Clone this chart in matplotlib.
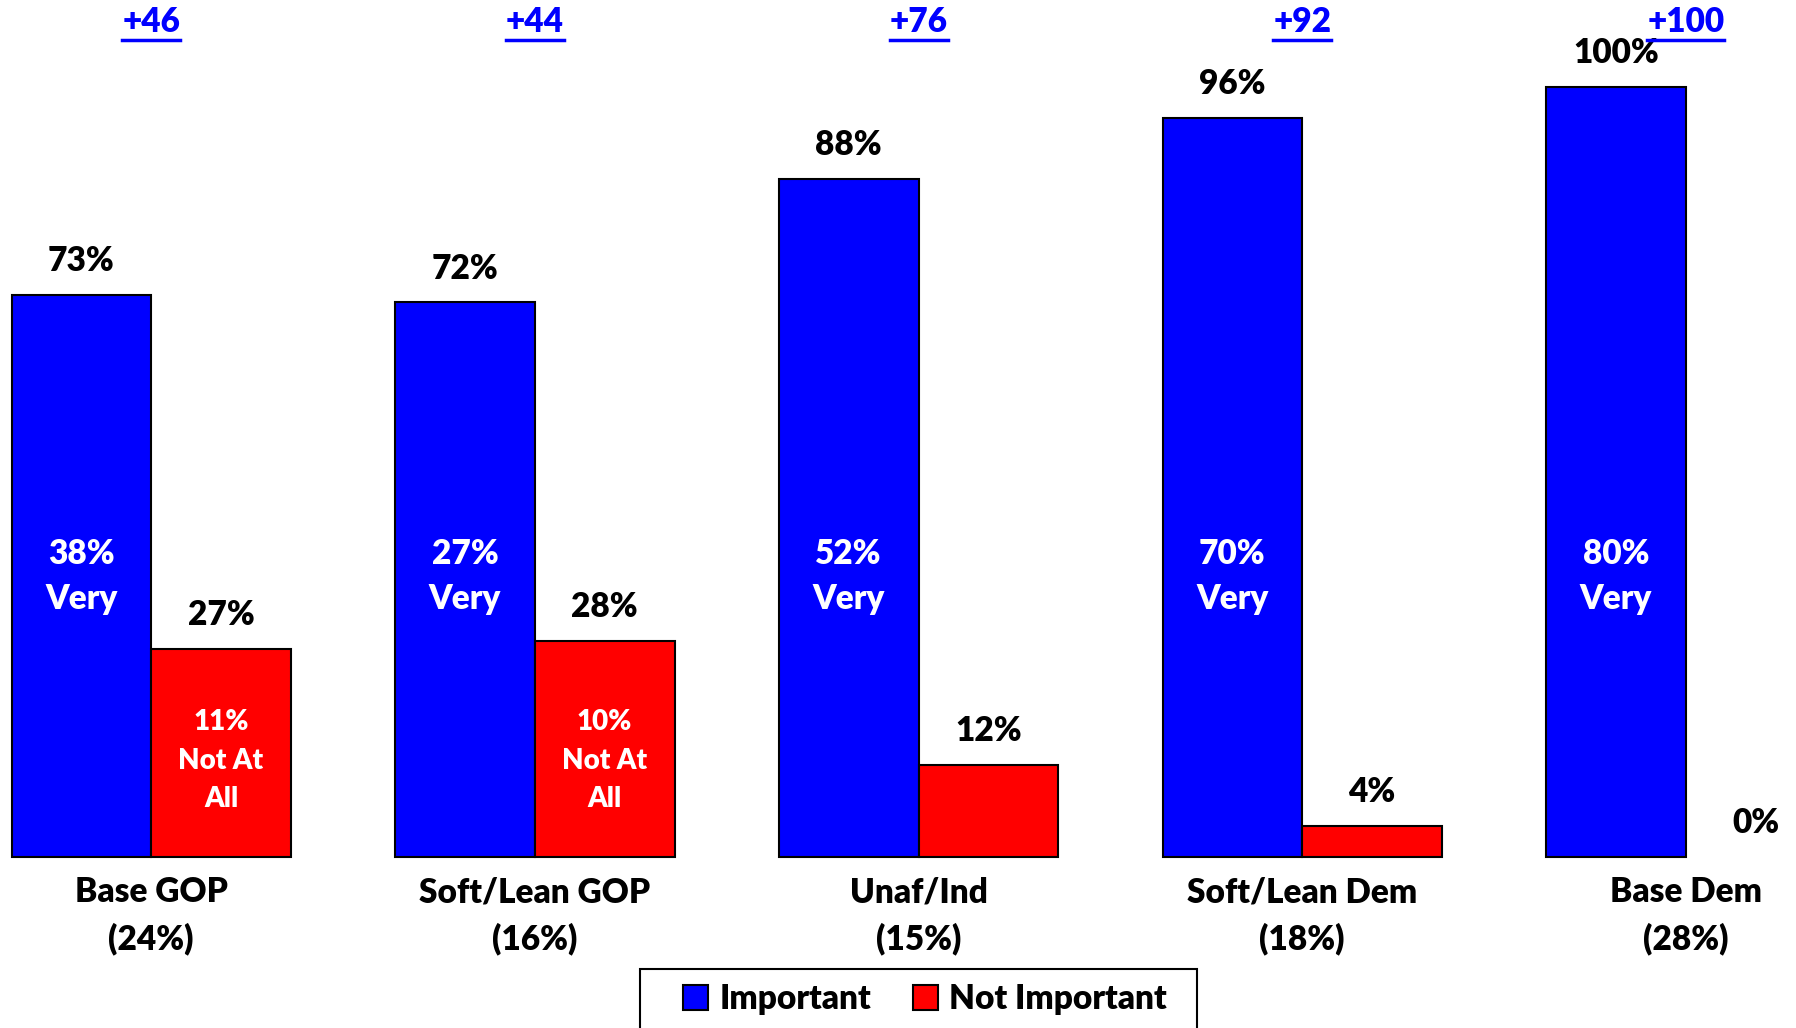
import matplotlib
matplotlib.use("Agg")
import matplotlib.pyplot as plt
from matplotlib.patches import Patch, Rectangle
from matplotlib.lines import Line2D
import numpy as np

plt.rcParams['font.family'] = ['Lato', 'DejaVu Sans']
plt.rcParams['font.weight'] = 'heavy'

groups = ['Base GOP\n(24%)', 'Soft/Lean GOP\n(16%)', 'Unaf/Ind\n(15%)',
          'Soft/Lean Dem\n(18%)', 'Base Dem\n(28%)']
important = [73, 72, 88, 96, 100]
not_important = [27, 28, 12, 4, 0]
very = [38, 27, 52, 70, 80]
not_at_all = [11, 10, None, None, None]
net = ['+46', '+44', '+76', '+92', '+100']

BLUE = '#0000FF'
RED = '#FF0000'

fig = plt.figure(figsize=(17.96, 10.28), dpi=100)
ax = fig.add_axes([0, 0, 1, 1])
ax.set_xlim(-0.394, 4.287)
ax.set_ylim(-22.2, 111.26)
ax.axis('off')

x = np.arange(len(groups))
w = 0.364
ax.bar(x - w/2, important, w, color=BLUE, edgecolor='black', linewidth=1.5)
red_lw = [1.5 if v > 0 else 0 for v in not_important]
ax.bar(x + w/2, not_important, w, color=RED, edgecolor='black', linewidth=red_lw)

fs = 24
for i in range(len(groups)):
    ax.text(x[i] - w/2, important[i] + 4.4, f'{important[i]}%', ha='center', va='center',
            fontsize=fs, color='black')
    ax.text(x[i] + w/2, not_important[i] + 4.4, f'{not_important[i]}%', ha='center', va='center',
            fontsize=fs, color='black')
    ax.text(x[i] - w/2, 36.4, f'{very[i]}%\nVery', ha='center', va='center',
            fontsize=fs, color='white', linespacing=1.48)
    if not_at_all[i] is not None:
        ax.text(x[i] + w/2, 12.5, f'{not_at_all[i]}%\nNot At\nAll', ha='center', va='center',
                fontsize=20, color='white', linespacing=1.6)
    ax.text(x[i], -7.6, groups[i], ha='center', va='center', fontsize=fs,
            color='black', linespacing=1.52)

# net labels, underlined
net_texts = []
for i in range(len(groups)):
    t = ax.text(x[i], 108.4, net[i], ha='center', va='center', fontsize=fs, color=BLUE)
    net_texts.append(t)

fig.canvas.draw()
r = fig.canvas.get_renderer()
W, H = fig.bbox.width, fig.bbox.height
for t in net_texts:
    bb = t.get_window_extent(r)
    yy = (bb.y0 - 2) / H
    fig.add_artist(Line2D([bb.x0 / W, bb.x1 / W], [yy, yy], color=BLUE, linewidth=2.5))

# legend (frame drawn separately, it runs off the bottom edge)
handles = [Patch(facecolor=BLUE, edgecolor='black', linewidth=1.5),
           Patch(facecolor=RED, edgecolor='black', linewidth=1.5)]
leg = fig.legend(handles, ['Important', 'Not Important'], loc='center',
                 bbox_to_anchor=(925 / 1796, 1 - 999 / 1028), ncol=2, fontsize=24,
                 frameon=False, handlelength=0.75, handleheight=0.75,
                 handletextpad=0.35, columnspacing=1.25, borderpad=0, borderaxespad=0)
fig.add_artist(Rectangle((640 / 1796, -0.05), (1197 - 640) / 1796, 0.05 + (1028 - 969) / 1028,
                         transform=fig.transFigure, fill=False, edgecolor='black',
                         linewidth=1.5))

fig.savefig('out.png', dpi=100)
